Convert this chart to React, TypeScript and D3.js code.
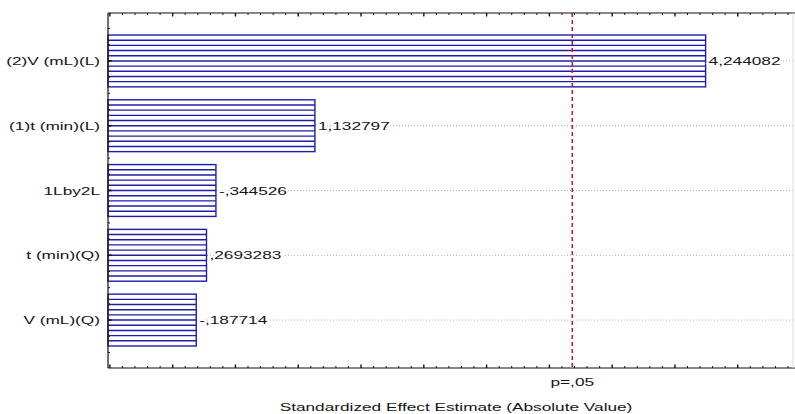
import React from "react";
import * as d3 from "d3";

const categories = ["(2)V (mL)(L)", "(1)t (min)(L)", "1Lby2L", "t (min)(Q)", "V (mL)(Q)"];
const effects = [4.244082, 1.132797, -0.344526, 0.2693283, -0.187714];
const criticalValue = 3.182;
const criticalLabel = "p=,05";
const xTitle = "Standardized Effect Estimate (Absolute Value)";
const xDomain: [number, number] = [-0.515, 4.94];

const W = 795;
const H = 414;
const L = 108, R = 793, T = 13, B = 368;
const FONT = "'Liberation Sans', Arial, sans-serif";
const FS = 11.5;
const SX = 1.5;
const BLUE = "#1f1fa3";
const TXT = "#151515";

const fmt = (v: number) => {
  let s = String(v);
  s = s.replace(/^(-?)0\./, "$1.");
  return s.replace(".", ",");
};

export default function App() {
  const x = d3.scaleLinear().domain(xDomain).range([L, R]);
  const y = d3.scaleBand<string>().domain(categories).range([T, B]).paddingInner(0.2).paddingOuter(0.34);
  const bw = y.bandwidth();
  const step = y.step();

  const minorTicks = d3.range(Math.ceil(xDomain[0] * 10), Math.floor(xDomain[1] * 10) + 1).map((k) => k / 10);
  const firstCenter = (y(categories[0]) as number) + bw / 2;
  const yTicks: { y: number; major: boolean }[] = [];
  for (let k = -10; k < 40; k++) {
    const yy = firstCenter + (k * step) / 4;
    if (yy >= T - 0.5 && yy <= B + 0.5) yTicks.push({ y: yy, major: k % 4 === 0 && k >= 0 && k / 4 < categories.length });
  }

  const tx = (xx: number, yy: number) => `translate(${xx},${yy}) scale(${SX},1)`;

  return (
    <svg width={W} height={H} style={{ position: "absolute", left: 0, top: 0, background: "#fff" }}>
      <rect x={0} y={0} width={W} height={H} fill="#fff" />
      {/* grid lines */}
      {categories.map((c) => {
        const cy = (y(c) as number) + bw / 2;
        return <line key={"g" + c} x1={L} x2={R} y1={cy} y2={cy} stroke="#aaaaaa" strokeWidth={1} strokeDasharray="1,2" />;
      })}
      {/* bars */}
      {categories.map((c, i) => {
        const top = y(c) as number;
        const x1 = x(Math.abs(effects[i]));
        return (
          <g key={"b" + c}>
            <rect x={L} y={top} width={x1 - L} height={bw} fill="#fff" stroke={BLUE} strokeWidth={1.4} />
            {d3.range(1, 10).map((k) => (
              <line key={k} x1={L} x2={x1} y1={top + (k * bw) / 10} y2={top + (k * bw) / 10} stroke={BLUE} strokeWidth={1.4} />
            ))}
          </g>
        );
      })}
      {/* value labels */}
      {categories.map((c, i) => {
        const cy = (y(c) as number) + bw / 2;
        const x1 = x(Math.abs(effects[i]));
        return (
          <text
            key={"v" + c}
            transform={tx(x1 + 3, cy + 4)}
            fontFamily={FONT}
            fontSize={FS}
            fill={TXT}
            stroke="#fff"
            strokeWidth={3}
            paintOrder="stroke"
          >
            {fmt(effects[i])}
          </text>
        );
      })}
      {/* critical line */}
      <line x1={x(criticalValue)} x2={x(criticalValue)} y1={T} y2={B} stroke="#d4122e" strokeWidth={1.5} strokeDasharray="4,3" />
      {/* frame */}
      <line x1={L} x2={R + 2} y1={T} y2={T} stroke="#111" strokeWidth={1.2} />
      <line x1={L} x2={R + 2} y1={B} y2={B} stroke="#111" strokeWidth={1.2} />
      <line x1={L} x2={L} y1={T} y2={B} stroke="#111" strokeWidth={1.2} />
      <line x1={R} x2={R} y1={T} y2={B} stroke="#ddd" strokeWidth={1} />
      {/* x ticks */}
      {minorTicks.map((v) => {
        const major = Math.abs(Math.round(v * 10) % 5) === 0;
        const len = major ? 3.5 : 2;
        const xx = x(v);
        return (
          <g key={"t" + v}>
            <line x1={xx} x2={xx} y1={T} y2={T + len} stroke="#111" strokeWidth={major ? 1.4 : 1} />
            <line x1={xx} x2={xx} y1={B} y2={B - len} stroke="#111" strokeWidth={major ? 1.4 : 1} />
          </g>
        );
      })}
      {/* y ticks */}
      {yTicks.map((t, i) => (
        <line key={"y" + i} x1={L} x2={L + (t.major ? 3.5 : 2)} y1={t.y} y2={t.y} stroke="#111" strokeWidth={t.major ? 1.6 : 1} />
      ))}
      {/* category labels */}
      {categories.map((c) => {
        const cy = (y(c) as number) + bw / 2;
        return (
          <text key={"c" + c} transform={tx(100, cy + 4)} textAnchor="end" fontFamily={FONT} fontSize={FS} fill={TXT}>
            {c}
          </text>
        );
      })}
      {/* p label */}
      <text transform={tx(x(criticalValue), 386)} textAnchor="middle" fontFamily={FONT} fontSize={FS} fill={TXT}>
        {criticalLabel}
      </text>
      {/* x title */}
      <text transform={tx(456, 411)} textAnchor="middle" fontFamily={FONT} fontSize={FS} fill={TXT}>
        {xTitle}
      </text>
    </svg>
  );
}
